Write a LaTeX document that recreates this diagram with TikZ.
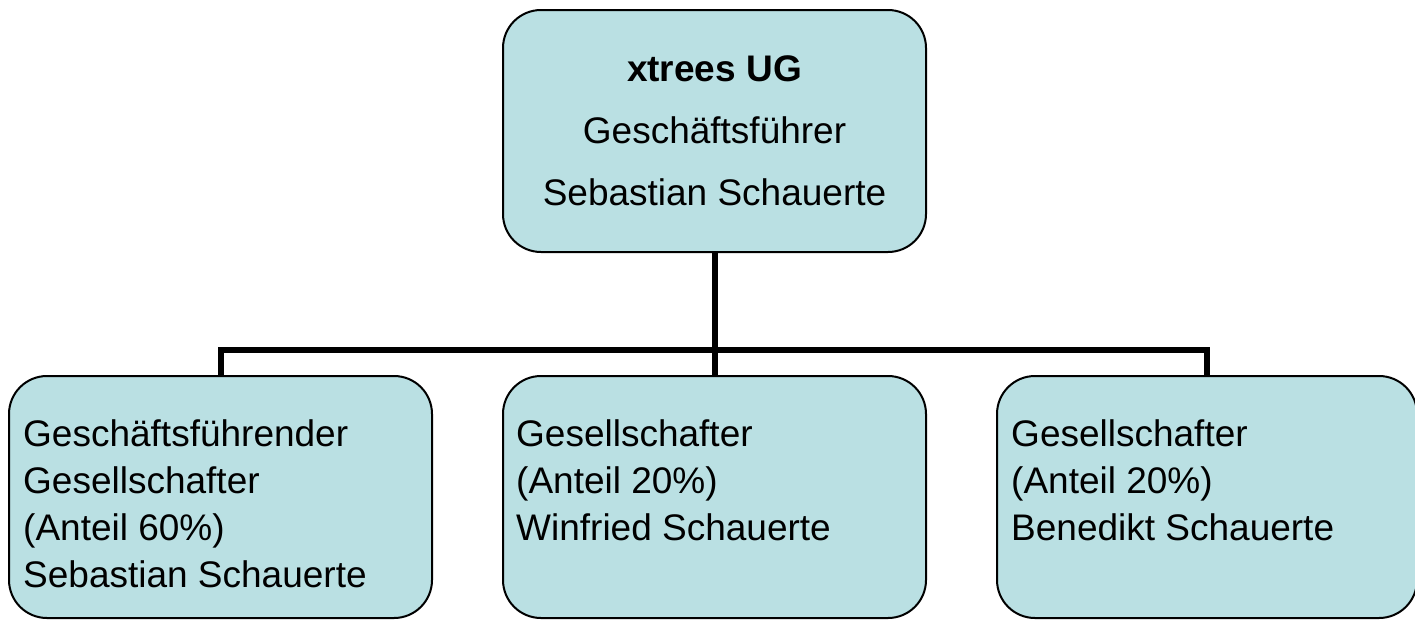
\documentclass[tikz,border=0pt]{standalone}
\usepackage{fontspec}
\setmainfont{Liberation Sans}
\definecolor{boxfill}{RGB}{186,224,227}
\begin{document}
\begin{tikzpicture}[x=1pt,y=-1pt,
  orgbox/.style={draw=black, line width=2pt, fill=boxfill, rounded corners=38pt, anchor=north west, inner sep=0pt, outer sep=0pt},
  conn/.style={draw=black, line width=6pt},
  lbl/.style={inner sep=0pt, align=left, anchor=north west, font=\fontsize{37}{47}\selectfont},
  toplbl/.style={inner sep=0pt, align=center, anchor=north, font=\fontsize{37}{62}\selectfont}]
\useasboundingbox (0,0) rectangle (1415,619);
\coordinate (j) at (715,350);
\node[orgbox, minimum width=423pt, minimum height=242pt] (top) at (503,10) {};
\node[orgbox, minimum width=423pt, minimum height=242pt] (lb) at (9,376) {};
\node[orgbox, minimum width=423pt, minimum height=242pt] (mb) at (503,376) {};
\node[orgbox, minimum width=420pt, minimum height=242pt] (rb) at (997,376) {};
\draw[conn] (top.south) -- (mb.north);
\draw[conn] (lb.north) |- (j) -| (rb.north);
\node[toplbl] (tt) at (714.5,55) {\textbf{xtrees UG}\\Geschäftsführer\\Sebastian Schauerte};
\node[lbl] (lbt) at (23,419) {Geschäftsführender\\Gesellschafter\\(Anteil 60\%)\\Sebastian Schauerte};
\node[lbl] (mbt) at (516,419) {Gesellschafter\\(Anteil 20\%)\\Winfried Schauerte};
\node[lbl] (rbt) at (1011,419) {Gesellschafter\\(Anteil 20\%)\\Benedikt Schauerte};
\end{tikzpicture}
\end{document}
